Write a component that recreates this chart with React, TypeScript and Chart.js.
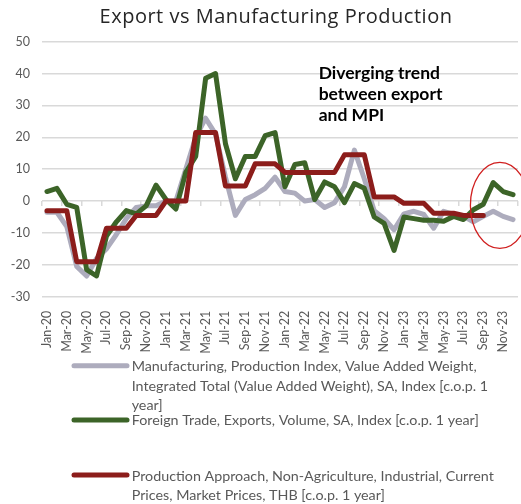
import { useEffect, useRef } from 'react';
import { Chart, registerables } from 'chart.js';

Chart.register(...registerables);

const months = [
  'Jan-20', 'Feb-20', 'Mar-20', 'Apr-20', 'May-20', 'Jun-20', 'Jul-20', 'Aug-20', 'Sep-20', 'Oct-20', 'Nov-20', 'Dec-20',
  'Jan-21', 'Feb-21', 'Mar-21', 'Apr-21', 'May-21', 'Jun-21', 'Jul-21', 'Aug-21', 'Sep-21', 'Oct-21', 'Nov-21', 'Dec-21',
  'Jan-22', 'Feb-22', 'Mar-22', 'Apr-22', 'May-22', 'Jun-22', 'Jul-22', 'Aug-22', 'Sep-22', 'Oct-22', 'Nov-22', 'Dec-22',
  'Jan-23', 'Feb-23', 'Mar-23', 'Apr-23', 'May-23', 'Jun-23', 'Jul-23', 'Aug-23', 'Sep-23', 'Oct-23', 'Nov-23', 'Dec-23',
];

const manufacturing = [
  -3.5, -3.5, -8, -20.5, -23.5, -18, -15, -10.5, -5.5, -2, -1.5, -1.5,
  0, 0, 10, 20, 26, 21, 7.5, -4.5, 0.5, 2, 4, 7.5,
  3, 2.5, 0, 0.5, -2, -0.5, 4.5, 16, 7, -3, -5.5, -9,
  -4, -3.2, -4.2, -8.5, -3.2, -4.2, -4.8, -6.5, -4.8, -3.2, -4.8, -5.8,
];

const exportsVolume = [
  3, 4, -1, -2, -21.5, -23.5, -11, -6.5, -3, -4, -1.5, 5,
  0.5, -2.5, 9, 14, 38.5, 40, 18, 7, 14, 14, 20.5, 21.5,
  4.5, 11.5, 12, 0.5, 6, 4.5, -0.5, 5.5, 4, -5, -7, -15.5,
  -5, -5.5, -6, -6, -6.3, -4.8, -5.8, -2.7, -1, 5.8, 3, 2,
];

const industrialProduction = [
  -3, -3, -3, -19, -19, -19, -8.5, -8.5, -8.5, -4.5, -4.5, -4.5,
  0, 0, 0, 21.5, 21.5, 21.5, 4.7, 4.7, 4.7, 11.7, 11.7, 11.7,
  9, 9, 9, 9, 9, 9, 14.5, 14.5, 14.5, 1.3, 1.3, 1.3,
  -0.7, -0.7, -0.7, -3.8, -3.8, -3.8, -4.5, -4.5, -4.5, null, null, null,
];

const legendText = [
  ['Manufacturing, Production Index, Value Added Weight,', 'Integrated Total (Value Added Weight), SA, Index [c.o.p. 1', 'year]'],
  ['Foreign Trade, Exports, Volume, SA, Index [c.o.p. 1 year]'],
  ['Production Approach, Non-Agriculture, Industrial, Current', 'Prices, Market Prices, THB [c.o.p. 1 year]'],
];

const chartTitle = 'Export vs Manufacturing Production';
const noteLines = ['Diverging trend', 'between export', 'and MPI'];

const yMin = -30;
const yMax = 50;
const yStep = 10;

const GREY = '#adacbd';
const GREEN = '#3c6428';
const RED = '#8c1d1b';
const GRID = '#d9d9d9';
const TICK = '#595959';

const W = 521;
const H = 504;
const PLOT_TOP = 41.7;
const PLOT_BOTTOM = 296.7;
const PAD_BOTTOM = 150;

const decorPlugin = {
  id: 'decor',
  afterDatasetsDraw(chart: any) {
    const { ctx, scales } = chart;
    const x = scales.x;
    const y = scales.y;
    ctx.save();
    // highlight ellipse
    const cx = x.getPixelForValue(45.67);
    const cy = y.getPixelForValue(-1.35);
    const rx = x.getPixelForValue(45.67 + 2.97) - cx;
    const ry = y.getPixelForValue(-1.35 - 13.5) - cy;
    ctx.beginPath();
    ctx.ellipse(cx, cy, rx, ry, 0, 0, Math.PI * 2);
    ctx.strokeStyle = '#d01f1f';
    ctx.lineWidth = 1.3;
    ctx.stroke();
    // note
    ctx.fillStyle = '#000000';
    ctx.font = 'bold 17.5px Lato';
    ctx.textAlign = 'left';
    ctx.textBaseline = 'alphabetic';
    const nx = x.getPixelForValue(27.4);
    const noteVals = [38.4, 31.7, 25];
    noteLines.forEach((t, i) => ctx.fillText(t, nx, y.getPixelForValue(noteVals[i])));
    ctx.restore();
  },
  afterDraw(chart: any) {
    const { ctx } = chart;
    ctx.save();
    // title
    ctx.fillStyle = '#262626';
    ctx.font = '20px "Open Sans"';
    try { (ctx as any).letterSpacing = '0.5px'; } catch (e) { /* ignore */ }
    ctx.textAlign = 'center';
    ctx.textBaseline = 'alphabetic';
    ctx.fillText(chartTitle, 276, 23.3);
    try { (ctx as any).letterSpacing = '0px'; } catch (e) { /* ignore */ }
    // legend
    const colors = [GREY, GREEN, RED];
    const sampleY = [365.7, 420, 475];
    const baselines = [[370.7, 391, 410], [425], [480.7, 499.7]];
    ctx.font = '14.3px Lato';
    ctx.textAlign = 'left';
    legendText.forEach((lines, i) => {
      ctx.beginPath();
      ctx.moveTo(74, sampleY[i]);
      ctx.lineTo(127, sampleY[i]);
      ctx.strokeStyle = colors[i];
      ctx.lineWidth = 5;
      ctx.lineCap = 'round';
      ctx.stroke();
      ctx.fillStyle = TICK;
      lines.forEach((t, j) => ctx.fillText(t, 131.7, baselines[i][j]));
    });
    ctx.restore();
  },
};

export default function App() {
  const ref = useRef<HTMLCanvasElement | null>(null);

  useEffect(() => {
    if (!ref.current) return;
    const lineStyle = {
      borderWidth: 5,
      pointRadius: 0,
      pointHoverRadius: 0,
      tension: 0,
      borderJoinStyle: 'round' as const,
      borderCapStyle: 'round' as const,
      fill: false,
      xAxisID: 'x',
      yAxisID: 'y',
    };
    const chart = new Chart(ref.current, {
      type: 'line',
      data: {
        labels: months,
        datasets: [
          { ...lineStyle, label: legendText[0].join(' '), data: manufacturing, borderColor: GREY, backgroundColor: GREY, order: 3 },
          { ...lineStyle, label: legendText[1].join(' '), data: exportsVolume, borderColor: GREEN, backgroundColor: GREEN, order: 2 },
          { ...lineStyle, label: legendText[2].join(' '), data: industrialProduction, borderColor: RED, backgroundColor: RED, order: 1 },
        ],
      },
      options: {
        animation: false,
        responsive: false,
        layout: { padding: { top: PLOT_TOP, right: 3, bottom: PAD_BOTTOM, left: 0 } },
        plugins: {
          legend: { display: false },
          title: { display: false },
          tooltip: { enabled: false },
        },
        scales: {
          x: {
            type: 'category',
            offset: true,
            grid: { display: false },
            border: { display: false },
            ticks: {
              autoSkip: false,
              maxRotation: 90,
              minRotation: 90,
              padding: 6,
              color: TICK,
              font: { family: 'Lato', size: 12.5 },
              callback: (_v: any, i: number) => (i % 2 === 0 ? months[i] : ''),
            },
            afterFit: (s: any) => {
              s.height = H - PAD_BOTTOM - PLOT_BOTTOM;
              s.paddingLeft = 0;
              s.paddingRight = 0;
            },
          },
          x2: {
            type: 'linear',
            axis: 'x',
            position: { y: 0 },
            min: 0,
            max: months.length,
            grid: { drawOnChartArea: false, drawTicks: true, tickLength: 5, color: GRID, lineWidth: 1.5 },
            border: { display: false },
            ticks: { display: false, stepSize: 2, maxTicksLimit: 100 },
          },
          y: {
            min: yMin,
            max: yMax,
            ticks: { stepSize: yStep, padding: 12, color: TICK, font: { family: 'Lato', size: 12.5 } },
            grid: { color: GRID, lineWidth: 1.5, drawTicks: false },
            border: { display: false },
            afterFit: (s: any) => {
              s.width = 42;
            },
          },
        },
      } as any,
      plugins: [decorPlugin],
    });
    return () => chart.destroy();
  }, []);

  return (
    <div style={{ position: 'absolute', left: 0, top: 0, width: W, height: H, background: '#fff' }}>
      <canvas ref={ref} width={W} height={H} style={{ display: 'block', width: W, height: H }} />
    </div>
  );
}
